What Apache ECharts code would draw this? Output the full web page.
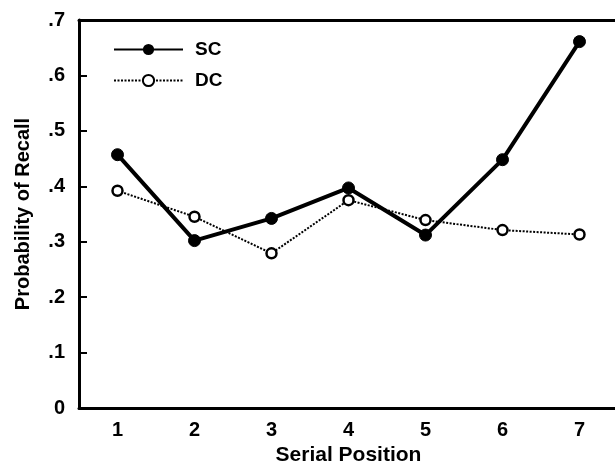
<!DOCTYPE html>
<html><head><meta charset="utf-8">
<script src="https://cdn.jsdelivr.net/npm/echarts@6/dist/echarts.min.js"></script>
<style>html,body{margin:0;padding:0;background:#fff}#c{width:615px;height:476px}</style>
</head><body><div id="c"></div>
<script>
const categories = ['1','2','3','4','5','6','7'];
const scValues = [0.457, 0.302, 0.342, 0.397, 0.312, 0.448, 0.661];
const dcValues = [0.392, 0.345, 0.279, 0.375, 0.339, 0.321, 0.313];
const yTicks = [0, 0.1, 0.2, 0.3, 0.4, 0.5, 0.6, 0.7];

const font = 'Liberation Sans, Arial, sans-serif';
const chart = echarts.init(document.getElementById('c'));
chart.setOption({
  animation: false,
  backgroundColor: '#fff',
  grid: {left: 79, right: -3, top: 20, bottom: 68, containLabel: false, outerBoundsMode: 'none'},
  legend: {
    left: 113, top: 40, padding: 0, orient: 'vertical', itemGap: 12,
    itemWidth: 69, itemHeight: 14,
    textStyle: {color: '#000', fontFamily: font, fontSize: 19, fontWeight: 'bold', padding: [0,0,0,7]},
    data: ['SC', 'DC']
  },
  xAxis: [{
    type: 'category', data: categories, boundaryGap: true,
    name: 'Serial Position', nameLocation: 'middle', nameGap: 33,
    nameTextStyle: {color: '#000', fontFamily: font, fontSize: 21, fontWeight: 'bold'},
    axisLine: {lineStyle: {color: '#000', width: 3}},
    axisTick: {inside: true, length: 6, alignWithLabel: true, lineStyle: {color: '#000', width: 2}},
    axisLabel: {color: '#000', fontFamily: font, fontSize: 20, fontWeight: 'bold', margin: 12},
    splitLine: {show: false}
  }, {
    type: 'category', data: categories, position: 'top',
    axisLine: {show: true, lineStyle: {color: '#000', width: 3}},
    axisTick: {show: false}, axisLabel: {show: false}, splitLine: {show: false}
  }],
  yAxis: {
    type: 'value', min: 0, max: 0.7, interval: 0.1,
    name: 'Probability of Recall', nameLocation: 'middle', nameGap: 46, nameRotate: 90,
    nameTextStyle: {color: '#000', fontFamily: font, fontSize: 20, fontWeight: 'bold'},
    axisLine: {show: true, lineStyle: {color: '#000', width: 3}},
    axisTick: {show: true, inside: true, length: 8, lineStyle: {color: '#000', width: 2}},
    axisLabel: {
      color: '#000', fontFamily: font, fontSize: 20, fontWeight: 'bold', margin: 14,
      formatter: v => {
        const t = yTicks.find(x => Math.abs(x - v) < 1e-6);
        if (t === undefined) return '';
        return t === 0 ? '0' : '.' + Math.round(t * 10);
      }
    },
    splitLine: {show: false}
  },
  series: [{
    name: 'SC', type: 'line', data: scValues,
    symbol: 'circle', symbolSize: 12,
    lineStyle: {color: '#000', width: 4},
    itemStyle: {color: '#000', borderColor: '#000'},
    z: 3
  }, {
    name: 'DC', type: 'line', data: dcValues,
    symbol: 'circle', symbolSize: 10,
    lineStyle: {color: '#000', width: 2, type: [2, 1.5]},
    itemStyle: {color: '#fff', borderColor: '#000', borderWidth: 2.5},
    z: 4
  }]
});
</script></body></html>
